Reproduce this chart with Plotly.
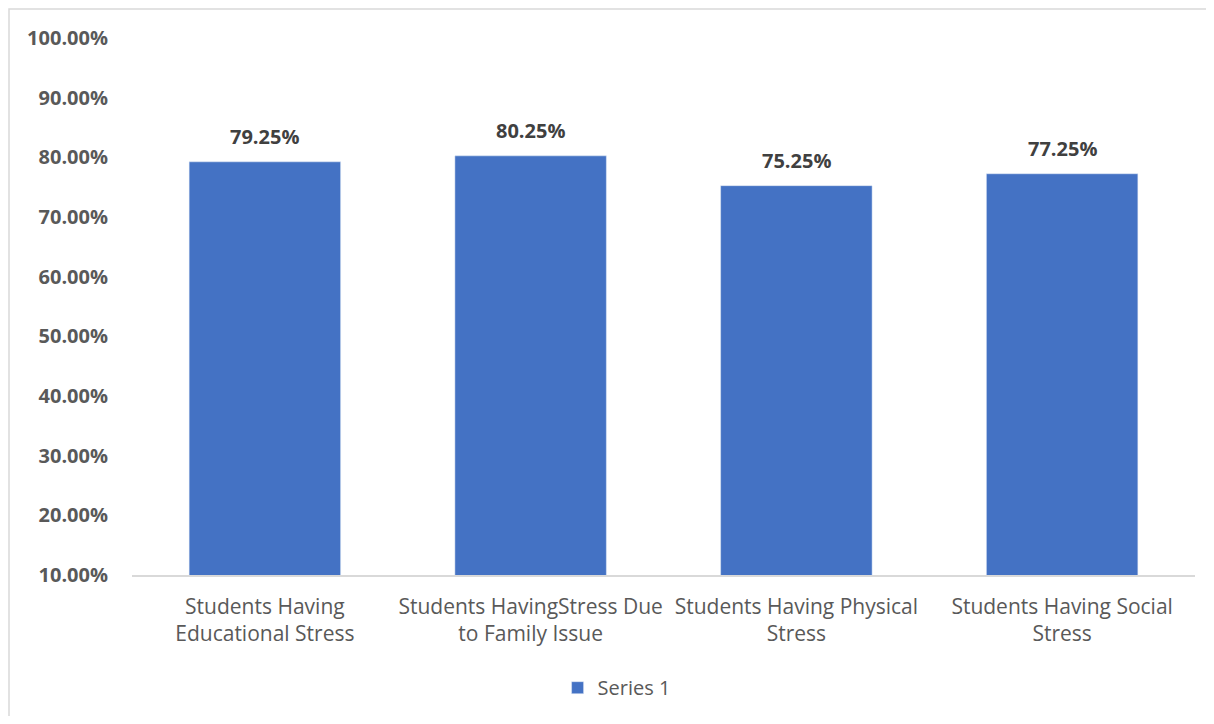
import plotly.graph_objects as go

categories = [
    "Students Having<br>Educational Stress",
    "Students HavingStress Due<br>to Family Issue",
    "Students Having Physical<br>Stress",
    "Students Having Social<br>Stress",
]
values = [79.25, 80.25, 75.25, 77.25]
y_ticks = [10, 20, 30, 40, 50, 60, 70, 80, 90, 100]

# page body adds an 8px offset; figure sized to fit inside
W, H = 1198, 708
L, R, T, B = 124, 11, 30, 141
pw, ph = W - L - R, H - T - B

FONT = "Open Sans, Liberation Sans, sans-serif"

fig = go.Figure(
    go.Bar(
        x=categories,
        y=values,
        name="Series 1",
        marker_color="#4472C4",
    )
)

for c, v in zip(categories, values):
    fig.add_annotation(
        x=c, y=v, xref="x", yref="y",
        text=f"<b>{v:.2f}%</b>",
        showarrow=False,
        yanchor="bottom",
        yshift=10,
        font=dict(size=20, color="#404040", family=FONT),
    )

fig.update_layout(
    width=W,
    height=H,
    margin=dict(l=L, r=R, t=T, b=B),
    paper_bgcolor="white",
    plot_bgcolor="white",
    bargap=0.43,
    showlegend=True,
    legend=dict(
        orientation="h",
        xref="container",
        yref="container",
        x=0.508,
        xanchor="center",
        y=0.04,
        yanchor="middle",
        itemwidth=30,
        font=dict(size=20, color="#595959", family=FONT),
    ),
    xaxis=dict(
        showline=True,
        linecolor="#d9d9d9",
        linewidth=1.5,
        showgrid=False,
        ticks="",
        ticklabelstandoff=12,
        tickfont=dict(size=21, color="#595959", family=FONT),
    ),
    yaxis=dict(
        range=[10, 100],
        tickvals=y_ticks,
        ticktext=[f"<b>{v:.2f}%</b>" for v in y_ticks],
        showgrid=False,
        zeroline=False,
        showline=False,
        ticks="",
        ticklabelstandoff=23,
        tickfont=dict(size=20, color="#595959", family=FONT),
    ),
    shapes=[
        dict(
            type="rect",
            xref="paper",
            yref="paper",
            x0=(1 - L) / pw,
            x1=(W + 20 - L) / pw,
            y0=-(H + 20 - T - ph) / ph,
            y1=1 + (T - 1) / ph,
            line=dict(color="#d9d9d9", width=1.5),
            layer="below",
        )
    ],
)

fig.write_html("out.html")
